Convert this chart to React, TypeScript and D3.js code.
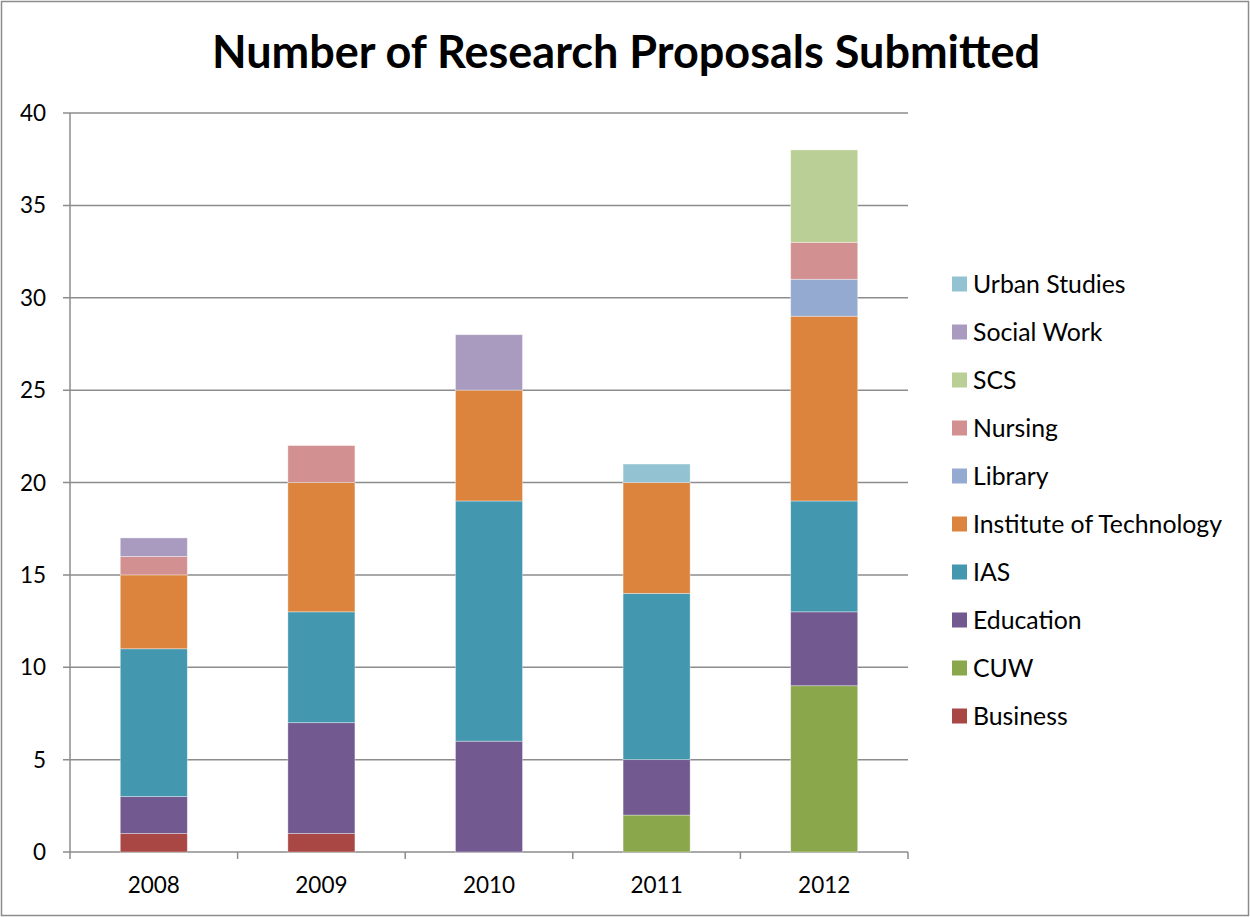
import React from "react";
import * as d3 from "d3";

const years = ["2008", "2009", "2010", "2011", "2012"];
const seriesNames = ["Business", "CUW", "Education", "IAS", "Institute of Technology", "Library", "Nursing", "SCS", "Social Work", "Urban Studies"];
const business = [1, 1, 0, 0, 0];
const cuw = [0, 0, 0, 2, 9];
const education = [2, 6, 6, 3, 4];
const ias = [8, 6, 13, 9, 6];
const instTech = [4, 7, 6, 6, 10];
const library = [0, 0, 0, 0, 2];
const nursing = [1, 2, 0, 0, 2];
const scs = [0, 0, 0, 0, 5];
const socialWork = [1, 0, 3, 0, 0];
const urbanStudies = [0, 0, 0, 1, 0];
const seriesValues = [business, cuw, education, ias, instTech, library, nursing, scs, socialWork, urbanStudies];
const colors = ["#A84744", "#8AA74C", "#72598F", "#4398B0", "#DC843E", "#94AAD0", "#D29190", "#BACF95", "#A99BBF", "#93C3D3"];
const yTicks = [0, 5, 10, 15, 20, 25, 30, 35, 40];

const FONT = "Lato, 'Open Sans', sans-serif";

export default function App() {
  const W = 1250, H = 917;
  const left = 70, right = 908, top = 113, bottom = 852;
  const x = d3.scaleBand<string>().domain(years).range([left, right]).paddingInner(0.6).paddingOuter(0.3);
  const y = d3.scaleLinear().domain([0, 40]).range([bottom, top]);
  const rows = years.map((yr, i) => {
    const r: any = { year: yr };
    seriesNames.forEach((s, k) => (r[s] = seriesValues[k][i]));
    return r;
  });
  const stacked = d3.stack<any>().keys(seriesNames)(rows);
  const step = (right - left) / years.length;
  const boundaries = d3.range(years.length + 1).map((i) => left + i * step);
  const legendNames = [...seriesNames].reverse();
  const legendColors = [...colors].reverse();

  return (
    <svg width={W} height={H} style={{ position: "absolute", left: 0, top: 0, display: "block" }}>
      <rect x={1.5} y={1.5} width={W - 3} height={H - 3} fill="#fff" stroke="#8c8c8c" strokeWidth={1.5} />
      <text x={626} y={68} textAnchor="middle" fontFamily={FONT} fontWeight="bold" fontSize={45} fill="#000">
        Number of Research Proposals Submitted
      </text>
      {yTicks.map((t) => (
        <g key={t}>
          <line x1={63} x2={right} y1={y(t)} y2={y(t)} stroke="#8c8c8c" strokeWidth={1.5} />
          <text x={46} y={y(t) + 8} textAnchor="end" fontFamily={FONT} fontSize={22.5} fill="#000">
            {t}
          </text>
        </g>
      ))}
      <line x1={left} x2={left} y1={top} y2={bottom} stroke="#8c8c8c" strokeWidth={1.5} />
      {boundaries.map((b, i) => (
        <line key={i} x1={b} x2={b} y1={bottom} y2={bottom + 7} stroke="#8c8c8c" strokeWidth={1.5} />
      ))}
      {stacked.map((layer, k) => (
        <g key={seriesNames[k]} fill={colors[k]}>
          {layer.map((d, i) =>
            d[1] - d[0] > 0 ? (
              <rect
                key={i}
                x={x(years[i])}
                width={x.bandwidth()}
                y={y(d[1])}
                height={y(d[0]) - y(d[1])}
                stroke="rgba(255,255,255,0.45)"
                strokeWidth={0.8}
              />
            ) : null
          )}
        </g>
      ))}
      {years.map((yr) => (
        <text key={yr} x={(x(yr) as number) + x.bandwidth() / 2} y={893} textAnchor="middle" fontFamily={FONT} fontSize={22.5} fill="#000">
          {yr}
        </text>
      ))}
      {legendNames.map((n, i) => {
        const cy = 284 + i * 48;
        return (
          <g key={n}>
            <rect x={952} y={cy - 7.5} width={15} height={15} fill={legendColors[i]} />
            <text x={973} y={cy + 8.5} fontFamily={FONT} fontSize={24.8} fill="#000">
              {n}
            </text>
          </g>
        );
      })}
    </svg>
  );
}
